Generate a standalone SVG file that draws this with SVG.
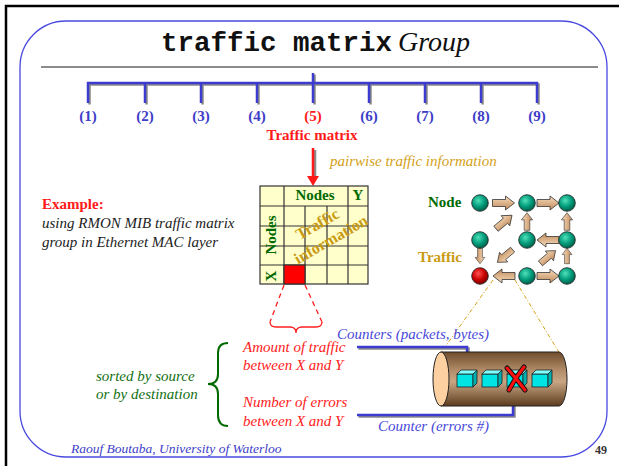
<svg xmlns="http://www.w3.org/2000/svg" width="619" height="466" viewBox="0 0 619 466">
  <defs>
    <style>
      .serif { font-family: "Liberation Serif", "Times New Roman", serif; }
      .mono { font-family: "Liberation Mono", "Courier New", monospace; font-weight: bold; font-size: 27.5px; fill: #111; }
      .title-it { font-family: "Liberation Serif", serif; font-style: italic; font-size: 28px; fill: #111; }
      .idx { font-family: "Liberation Serif", serif; font-weight: bold; font-size: 15px; fill: #3c3cc8; text-anchor: middle; }
      .red-b { font-family: "Liberation Serif", serif; font-weight: bold; font-size: 15px; fill: #ff1a1a; }
      .red-it { font-family: "Liberation Serif", serif; font-style: italic; font-size: 15px; fill: #ff1a1a; }
      .dark-it { font-family: "Liberation Serif", serif; font-style: italic; font-size: 15px; fill: #222; }
      .gold-it { font-family: "Liberation Serif", serif; font-style: italic; font-size: 15px; fill: #d4a017; }
      .gold-b { font-family: "Liberation Serif", serif; font-weight: bold; font-size: 15px; fill: #c99a12; }
      .green-b { font-family: "Liberation Serif", serif; font-weight: bold; font-size: 15px; fill: #006a00; }
      .green-it { font-family: "Liberation Serif", serif; font-style: italic; font-size: 15px; fill: #127012; }
      .blue-it { font-family: "Liberation Serif", serif; font-style: italic; font-size: 15px; fill: #4848d8; }
      .foot { font-family: "Liberation Serif", serif; font-style: italic; font-size: 13.5px; fill: #4040c8; }
      .tree { fill: none; stroke: #3c3cd0; stroke-width: 2.5; }
      .tree-sh { fill: none; stroke: #8a8a8a; stroke-width: 2.5; }
      .cell { fill: #ffffcc; stroke: #333; stroke-width: 1.2; }
      .blk { fill: url(#gArrow); stroke: #333; stroke-width: 0.8; }
      .node { fill: url(#gNode); stroke: #222; stroke-width: 0.8; }
      .conn { fill: none; stroke: #3c3cd0; stroke-width: 2.5; }
      .conn-sh { fill: none; stroke: #8a8a8a; stroke-width: 2.5; }
      .dash-red { fill: none; stroke: #ff2020; stroke-width: 1.3; stroke-dasharray: 5 4; }
      .dash-gold { fill: none; stroke: #d4a017; stroke-width: 1; stroke-dasharray: 4 2 1 2; }
    </style>
    <radialGradient id="gNode" cx="0.4" cy="0.35" r="0.7">
      <stop offset="0" stop-color="#4fe0b8"/>
      <stop offset="0.55" stop-color="#00997a"/>
      <stop offset="1" stop-color="#00553f"/>
    </radialGradient>
    <radialGradient id="gRed" cx="0.4" cy="0.35" r="0.7">
      <stop offset="0" stop-color="#ff5050"/>
      <stop offset="0.55" stop-color="#c80000"/>
      <stop offset="1" stop-color="#6a0000"/>
    </radialGradient>
    <linearGradient id="gArrow" x1="0" y1="0" x2="0" y2="1">
      <stop offset="0" stop-color="#f8dcbc"/>
      <stop offset="1" stop-color="#c08a5a"/>
    </linearGradient>
    <linearGradient id="gCyl" x1="0" y1="0" x2="0" y2="1">
      <stop offset="0" stop-color="#6e4c2c"/>
      <stop offset="0.35" stop-color="#b48e6a"/>
      <stop offset="0.55" stop-color="#c8a684"/>
      <stop offset="1" stop-color="#5c3c1e"/>
    </linearGradient>
    <path id="blockArrow" d="M-11,-3.5 H2 V-7 L11,0 L2,7 V3.5 H-11 Z"/>
    <g id="cube">
      <rect x="0" y="4" width="16" height="13" fill="#00e4e4" stroke="#222" stroke-width="0.8"/>
      <polygon points="0,4 4,0 20,0 16,4" fill="#80ffff" stroke="#222" stroke-width="0.8"/>
      <polygon points="16,4 20,0 20,13 16,17" fill="#00b0b0" stroke="#222" stroke-width="0.8"/>
    </g>
  </defs>

  <!-- page frame -->
  <rect width="619" height="466" fill="#ffffff"/>
  <path d="M6,466 V6 H619" fill="none" stroke="#000" stroke-width="2.5"/>
  <rect x="20" y="21" width="587" height="436" rx="46" ry="46" fill="none" stroke="#4a4ae0" stroke-width="1.3"/>

  <!-- title -->
  <g id="title">
    <text y="51"><tspan class="mono" x="161">traffic matrix</tspan><tspan class="title-it" x="398">Group</tspan></text>
    <line x1="41" y1="67" x2="598" y2="67" stroke="#666" stroke-width="1.5"/>
  </g>

  <!-- RMON group tree -->
  <g id="tree">
    <path class="tree-sh" transform="translate(1.5,1.5)" d="M313,73 V103 M88,103 V83 H537 V103 M145,83 V103 M201,83 V103 M257,83 V103 M369,83 V103 M425,83 V103 M481,83 V103"/>
    <path class="tree" d="M313,73 V103 M88,103 V83 H537 V103 M145,83 V103 M201,83 V103 M257,83 V103 M369,83 V103 M425,83 V103 M481,83 V103"/>
    <text class="idx" x="88" y="121">(1)</text>
    <text class="idx" x="145" y="121">(2)</text>
    <text class="idx" x="201" y="121">(3)</text>
    <text class="idx" x="257" y="121">(4)</text>
    <text class="idx" x="313" y="121" style="fill:#ff1a1a">(5)</text>
    <text class="idx" x="369" y="121">(6)</text>
    <text class="idx" x="425" y="121">(7)</text>
    <text class="idx" x="481" y="121">(8)</text>
    <text class="idx" x="537" y="121">(9)</text>
    <text class="red-b" x="312" y="140" text-anchor="middle">Traffic matrix</text>
  </g>

  <!-- connectors -->
  <g id="connectors">
    <!-- red pointer into the matrix -->
    <line x1="315" y1="150" x2="315" y2="180" stroke="#8a8a8a" stroke-width="2.5"/>
    <line x1="313" y1="148" x2="313" y2="177" stroke="#ff1a1a" stroke-width="2.5"/>
    <polygon points="307,176 319,176 313,186" fill="#ff1a1a"/>
    <!-- zoom lines from the red cell -->
    <path class="dash-red" d="M284,285 L270,322 M305,285 L322,322"/>
    <path d="M270,322 q0,5 6,5 h14 q6,0 6,6 q0,-6 6,-6 h14 q6,0 6,-5" fill="none" stroke="#ff2020" stroke-width="1.3"/>
    <!-- zoom lines from the traffic link -->
    <path class="dash-gold" d="M493,280 L440,354 M515,280 L560,354"/>
    <!-- counters -->
    <path class="conn-sh" transform="translate(1.5,1.5)" d="M357,347 H467 V360"/>
    <path class="conn" d="M357,347 H467 V360"/>
    <polygon points="461,358 473,358 467,369" fill="#3c3cd0"/>
    <path class="conn-sh" transform="translate(1.5,1.5)" d="M357,415 H513 V397"/>
    <path class="conn" d="M357,415 H513 V397"/>
    <polygon points="507,399 519,399 513,388" fill="#3c3cd0"/>
    <!-- grouping brace -->
    <path d="M228,343 q-10,0 -10,10 v21 q0,10 -10,10 q10,0 10,10 v21 q0,11 10,11" fill="none" stroke="#006a00" stroke-width="2"/>
  </g>

  <!-- example caption -->
  <g id="example">
    <text class="red-b" x="42" y="209">Example:</text>
    <text class="dark-it" x="42" y="228">using RMON MIB traffic matrix</text>
    <text class="dark-it" x="42" y="247">group in Ethernet MAC layer</text>
  </g>

  <text class="gold-it" x="330" y="166">pairwise traffic information</text>

  <!-- traffic matrix table -->
  <g id="matrix">
    <rect class="cell" x="260" y="186" width="108" height="98"/>
    <path d="M284,186 V284 M305,206 V284 M327,206 V284 M348,186 V284 M260,206 H368 M260,226 H368 M260,246 H368 M260,265 H368" stroke="#333" stroke-width="1.2" fill="none"/>
    <rect x="284" y="265" width="21" height="19" fill="#ff0000" stroke="#333" stroke-width="1.2"/>
    <text class="green-b" x="315" y="200" text-anchor="middle">Nodes</text>
    <text class="green-b" x="358" y="200" text-anchor="middle">Y</text>
    <text class="green-b" transform="translate(276,235) rotate(-90)" text-anchor="middle">Nodes</text>
    <text class="green-b" transform="translate(276,276) rotate(-90)" text-anchor="middle">X</text>
    <g transform="translate(326,231) rotate(-30)">
      <text class="gold-b" x="-4" y="-5" text-anchor="middle" style="font-size:16px">Traffic</text>
      <text class="gold-b" x="0" y="15" text-anchor="middle" style="font-size:16px">information</text>
    </g>
  </g>

  <!-- network of nodes and traffic flows -->
  <g id="network">
    <text class="green-b" x="428" y="207">Node</text>
    <text class="gold-b" x="418" y="262">Traffic</text>
    <use href="#blockArrow" class="blk" transform="translate(503.5,203)"/>
    <use href="#blockArrow" class="blk" transform="translate(548,203)"/>
    <use href="#blockArrow" class="blk" transform="translate(504,222) rotate(-40) scale(0.95)"/>
    <use href="#blockArrow" class="blk" transform="translate(527,221.5) rotate(-90) scale(0.8)"/>
    <use href="#blockArrow" class="blk" transform="translate(567,221.5) rotate(-90) scale(0.8)"/>
    <use href="#blockArrow" class="blk" transform="translate(548,240) rotate(180)"/>
    <use href="#blockArrow" class="blk" transform="translate(480,256) rotate(90) scale(0.7)"/>
    <use href="#blockArrow" class="blk" transform="translate(505,256) rotate(140) scale(0.9)"/>
    <use href="#blockArrow" class="blk" transform="translate(548,257) rotate(-40) scale(0.9)"/>
    <use href="#blockArrow" class="blk" transform="translate(567,256) rotate(-90) scale(0.7)"/>
    <use href="#blockArrow" class="blk" transform="translate(504,276) rotate(180)"/>
    <use href="#blockArrow" class="blk" transform="translate(548,276)"/>
    <circle class="node" cx="480" cy="203" r="8.3"/>
    <circle class="node" cx="527" cy="203" r="8.3"/>
    <circle class="node" cx="567" cy="203" r="8.3"/>
    <circle class="node" cx="480" cy="240" r="8.3"/>
    <circle class="node" cx="527" cy="240" r="8.3"/>
    <circle class="node" cx="567" cy="240" r="8.3"/>
    <circle cx="480" cy="276" r="8.3" fill="url(#gRed)" stroke="#222" stroke-width="0.8"/>
    <circle class="node" cx="527" cy="276" r="8.3"/>
    <circle class="node" cx="567" cy="276" r="8.3"/>
  </g>

  <!-- link cylinder with counters -->
  <g id="link">
    <path d="M441,352 H559 A8,27 0 0 1 559,406 H441 Z" fill="url(#gCyl)" stroke="#222" stroke-width="1"/>
    <ellipse cx="441" cy="379" rx="8" ry="27" fill="#fcd0a0" stroke="#222" stroke-width="1"/>
    <use href="#cube" x="457" y="370"/>
    <use href="#cube" x="482" y="370"/>
    <use href="#cube" x="507" y="370"/>
    <use href="#cube" x="532" y="370"/>
    <path d="M507,368 Q516,378 525,390 M524,367 Q515,378 509,390" fill="none" stroke="#111" stroke-width="5" stroke-linecap="round"/>
    <path d="M507,368 Q516,378 525,390 M524,367 Q515,378 509,390" fill="none" stroke="#ff1010" stroke-width="3" stroke-linecap="round"/>
  </g>

  <!-- counter labels -->
  <g id="counters">
    <text class="blue-it" x="337" y="339">Counters (packets, bytes)</text>
    <text class="blue-it" x="378" y="431">Counter (errors #)</text>
    <text class="red-it" x="243" y="352">Amount of traffic</text>
    <text class="red-it" x="243" y="370">between X and Y</text>
    <text class="red-it" x="243" y="407">Number of errors</text>
    <text class="red-it" x="243" y="426">between X and Y</text>
    <text class="green-it" x="96" y="381">sorted by source</text>
    <text class="green-it" x="96" y="399">or by destination</text>
  </g>

  <!-- footer -->
  <g id="footer">
    <text class="foot" x="71" y="453">Raouf Boutaba, University of Waterloo</text>
    <text class="serif" x="595" y="454" font-size="12" font-weight="bold" fill="#333">49</text>
  </g>
</svg>
